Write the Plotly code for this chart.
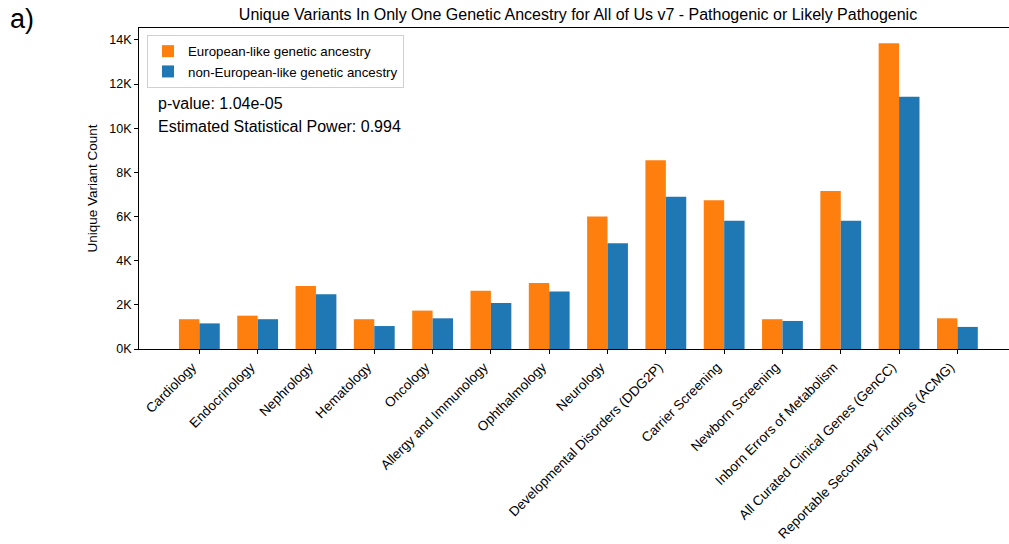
import plotly.graph_objects as go

categories = ["Cardiology", "Endocrinology", "Nephrology", "Hematology", "Oncology",
              "Allergy and Immunology", "Ophthalmology", "Neurology",
              "Developmental Disorders (DDG2P)", "Carrier Screening", "Newborn Screening",
              "Inborn Errors of Metabolism", "All Curated Clinical Genes (GenCC)",
              "Reportable Secondary Findings (ACMG)"]
european = [1350, 1510, 2850, 1350, 1740, 2640, 2990, 6000, 8550, 6740, 1350, 7160, 13850, 1390]
non_european = [1160, 1350, 2480, 1040, 1390, 2080, 2610, 4790, 6900, 5810, 1270, 5810, 11430, 1000]
ytick_vals = [0, 2000, 4000, 6000, 8000, 10000, 12000, 14000]
ytick_text = ["0K", "2K", "4K", "6K", "8K", "10K", "12K", "14K"]

FONT = "Liberation Sans, Arial, Helvetica, sans-serif"
W, H = 1009, 544
L, R, T, B = 139, 0, 28, 195

fig = go.Figure()
fig.add_trace(go.Bar(x=categories, y=european, name="European-like genetic ancestry",
                     marker=dict(color="#ff7f0e", line=dict(width=0))))
fig.add_trace(go.Bar(x=categories, y=non_european, name="non-European-like genetic ancestry",
                     marker=dict(color="#1f77b4", line=dict(width=0))))

pw = W - L - R
ph = H - T - B

fig.update_layout(
    width=W, height=H,
    margin=dict(l=L, r=R, t=T, b=B, pad=0, autoexpand=False),
    paper_bgcolor="white", plot_bgcolor="white",
    font=dict(family=FONT, size=12, color="black"),
    barmode="group", bargap=0.3, bargroupgap=0,
    title=dict(text="Unique Variants In Only One Genetic Ancestry for All of Us v7 - Pathogenic or Likely Pathogenic",
               x=(578 - L) / pw, xref="paper", xanchor="center",
               y=1 - 14 / H, yref="container", yanchor="middle",
               font=dict(family=FONT, size=16, color="black")),
    legend=dict(x=(147 - L) / pw, y=1 - (35 - T) / ph, xanchor="left", yanchor="top",
                bordercolor="#d0d0d0", borderwidth=1, bgcolor="rgba(255,255,255,0.8)",
                font=dict(family=FONT, size=13.3, color="black"), tracegroupgap=0),
    showlegend=True,
)
fig.update_xaxes(type="category", range=[-1.035, 13.885], showline=True, linecolor="black",
                 linewidth=1, mirror=True, ticks="outside", ticklen=4, tickcolor="black",
                 tickangle=-45, showgrid=False, zeroline=False, automargin=False,
                 ticklabelshift=-7,
                 tickfont=dict(family=FONT, size=13.5, color="black"))
fig.update_yaxes(range=[0, 14540], showline=True, linecolor="black", linewidth=1,
                 mirror=False, ticks="outside", ticklen=4, tickcolor="black",
                 tickvals=ytick_vals, ticktext=ytick_text, showgrid=False, zeroline=False,
                 automargin=False,
                 tickfont=dict(family=FONT, size=12.5, color="black"),
                 title=dict(text="Unique Variant Count", standoff=8,
                            font=dict(family=FONT, size=13.5, color="black")))

fig.add_annotation(text="p-value: 1.04e-05", xref="paper", yref="paper",
                   x=(156 - L) / pw, y=1 - (103 - T) / ph, xanchor="left", yanchor="middle",
                   showarrow=False, font=dict(family=FONT, size=16, color="black"))
fig.add_annotation(text="Estimated Statistical Power: 0.994", xref="paper", yref="paper",
                   x=(156 - L) / pw, y=1 - (126 - T) / ph, xanchor="left", yanchor="middle",
                   showarrow=False, font=dict(family=FONT, size=16, color="black"))
fig.add_annotation(text="a)", xref="paper", yref="paper",
                   x=(8 - L) / pw, y=1 + (T - 19) / ph, xanchor="left", yanchor="middle",
                   showarrow=False, font=dict(family=FONT, size=27, color="black"))

fig.write_html("out.html", config={"displayModeBar": False},
               post_script="document.body.style.margin='0';document.body.style.overflow='hidden';")
